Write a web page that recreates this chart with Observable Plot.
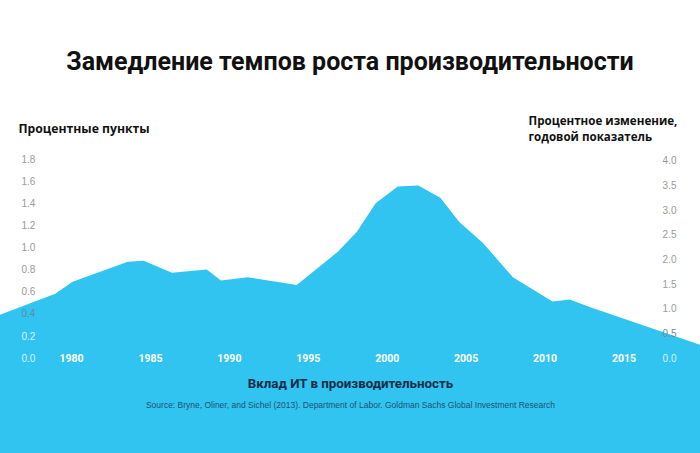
<!DOCTYPE html>
<html>
<head>
<meta charset="utf-8">
<script src="https://cdn.jsdelivr.net/npm/d3@7"></script>
<script src="https://cdn.jsdelivr.net/npm/@observablehq/plot@0.6"></script>
<style>
  html, body { margin: 0; padding: 0; background: #fff; }
  #title { box-sizing: border-box; height: 100px; padding-top: 49px; text-align: center;
    font-family: Roboto, "Open Sans", sans-serif; font-weight: 700; font-size: 25px; line-height: 26px; color: #111; }
  #chart svg { display: block; }
</style>
</head>
<body>
<div id="title">Замедление темпов роста производительности</div>
<div id="chart"></div>
<script>
// Data (left scale: percentage points)
const years = [1975.5, 1979.0, 1980.1, 1983.6, 1984.6, 1986.4, 1988.6, 1989.5, 1991.2, 1994.3, 1996.9, 1998.1, 1999.3, 2000.7, 2002.0, 2003.4, 2004.6, 2006.1, 2008.0, 2010.5, 2011.6, 2012.9, 2019.85];
const itContribution = [0.39, 0.58, 0.69, 0.87, 0.88, 0.77, 0.80, 0.70, 0.73, 0.66, 0.96, 1.14, 1.40, 1.55, 1.56, 1.45, 1.23, 1.04, 0.73, 0.51, 0.53, 0.46, 0.12];
const xTicks = [1980, 1985, 1990, 1995, 2000, 2005, 2010, 2015];
const leftTicks = [0.0, 0.2, 0.4, 0.6, 0.8, 1.0, 1.2, 1.4, 1.6, 1.8];
const rightTicks = [0.0, 0.5, 1.0, 1.5, 2.0, 2.5, 3.0, 3.5, 4.0];
const rightToLeft = 0.446; // right-axis unit expressed in left-axis units
const rightTitleLines = ["Процентное изменение,", "годовой показатель"];

const data = years.map((y, i) => ({year: y, value: itContribution[i]}));
const yDomain = [-0.859, 2.333];

const chart = Plot.plot({
  width: 700,
  height: 353,
  marginTop: 0, marginBottom: 0, marginLeft: 0, marginRight: 0,
  x: {domain: [years[0], years[years.length - 1]], axis: null},
  y: {domain: yDomain, axis: null},
  style: {background: "#fff", fontFamily: "Roboto, sans-serif"},
  marks: [
    Plot.areaY(data, {x: "year", y1: yDomain[0], y2: "value", fill: "#32c4f1"}),
    Plot.text(leftTicks, {y: d => d, text: d => d.toFixed(1), frameAnchor: "left", dx: 21, textAnchor: "start",
      fontSize: 10, fill: d => d <= 0.2 ? "#d6f2fc" : (d <= 0.4 ? "#5f8aa0" : "#9a9a9a"), fontFamily: "Liberation Sans, Arial, sans-serif"}),
    Plot.text(rightTicks, {y: d => d * rightToLeft, text: d => d.toFixed(1), frameAnchor: "right", dx: -24, textAnchor: "end",
      fontSize: 10, fill: d => d <= 0.0 ? "#d6f2fc" : (d <= 0.5 ? "#6e8a99" : "#9a9a9a"), fontFamily: "Liberation Sans, Arial, sans-serif"}),
    Plot.text(xTicks, {x: d => d, y: 0, text: d => String(d), fill: "#fff", fontWeight: "bold", fontSize: 10.5,
      fontFamily: "Liberation Sans Narrow, Roboto, sans-serif"}),
    Plot.text(["Процентные пункты"], {frameAnchor: "top-left", dx: 18, dy: 29, textAnchor: "start", lineAnchor: "middle",
      fontWeight: "bold", fontSize: 12.2, fill: "#111", fontFamily: "Open Sans, sans-serif"}),
    Plot.text([rightTitleLines[0]], {frameAnchor: "top-left", dx: 528, dy: 20.5, textAnchor: "start",
      lineAnchor: "middle", fontWeight: "bold", fontSize: 11.6, fill: "#111", fontFamily: "Open Sans, sans-serif"}),
    Plot.text([rightTitleLines[1]], {frameAnchor: "top-left", dx: 528, dy: 36.5, textAnchor: "start",
      lineAnchor: "middle", fontWeight: "bold", fontSize: 11.6, fill: "#111", fontFamily: "Open Sans, sans-serif"}),
    Plot.text(["Вклад ИТ в производительность"], {frameAnchor: "bottom", dy: -70, lineAnchor: "middle",
      fontWeight: "bold", fontSize: 13.3, fill: "#0e2c47"}),
    Plot.text(["Source: Bryne, Oliner, and Sichel (2013). Department of Labor. Goldman Sachs Global Investment Research"],
      {frameAnchor: "bottom", dy: -48, lineAnchor: "middle", fontSize: 8.5, fill: "#1a5275", fontFamily: "Liberation Sans, Arial, sans-serif"})
  ]
});
document.getElementById("chart").appendChild(chart);
</script>
</body>
</html>
